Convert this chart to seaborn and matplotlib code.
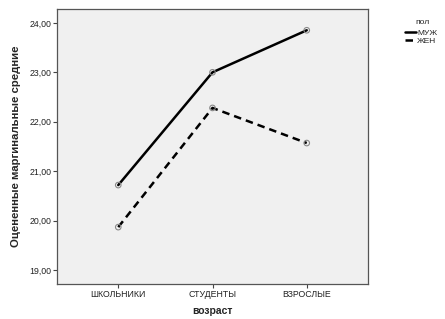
import matplotlib
matplotlib.use("Agg")
import matplotlib.pyplot as plt
import seaborn as sns
import pandas as pd
from matplotlib.lines import Line2D

# data
ages = ["ШКОЛЬНИКИ", "СТУДЕНТЫ", "ВЗРОСЛЫЕ"]
male = [20.72, 23.00, 23.85]
female = [19.87, 22.28, 21.57]
sex_labels = ["МУЖ", "ЖЕН"]
yticks = [19, 20, 21, 22, 23, 24]

df = pd.DataFrame({
    "возраст": ages * 2,
    "value": male + female,
    "пол": [sex_labels[0]] * 3 + [sex_labels[1]] * 3,
})
df["pos"] = df["возраст"].map({a: i for i, a in enumerate(ages)})

sns.set_style("white")
plt.rcParams["font.family"] = ["Liberation Sans", "DejaVu Sans"]

fig = plt.figure(figsize=(4.45, 3.19), dpi=100)
ax = fig.add_axes([57 / 445, 1 - 284 / 319, (368 - 57) / 445, (284 - 9) / 319])
ax.set_facecolor("#f0f0f0")

sns.lineplot(data=df, x="pos", y="value", hue="пол", style="пол",
             palette=["black", "black"], dashes={"МУЖ": "", "ЖЕН": (3, 2)},
             linewidth=1.8, ax=ax, legend=False)
# hollow grey markers, line stays visible through them
ax.scatter(df["pos"], df["value"], s=16, facecolors="none",
           edgecolors="#888888", linewidths=0.8, zorder=3)

ax.set_xlim(-0.65, 2.65)
ax.set_ylim(18.72, 24.28)
ax.set_xticks(range(len(ages)))
ax.set_xticklabels(ages)
ax.set_yticks(yticks)
ax.set_yticklabels([f"{v},00" for v in yticks])
ax.tick_params(axis="both", labelsize=6.3, length=3, width=0.8,
               direction="out", colors="#444444", labelcolor="#222222",
               pad=1, left=True, bottom=True)
for s in ax.spines.values():
    s.set_color("#555555")
    s.set_linewidth(0.9)

ax.set_xlabel("возраст", fontsize=7.5, fontweight="bold", labelpad=5)
ax.set_ylabel("Оцененные маргинальные средние", fontsize=8.2,
              fontweight="bold", labelpad=6)

# legend
fig.text(422 / 445, 1 - 22 / 319, "пол", fontsize=6, ha="center", va="center")
handles = [Line2D([], [], color="black", lw=1.8),
           Line2D([], [], color="black", lw=1.8, dashes=(3, 2))]
fig.legend(handles, sex_labels, loc="upper left",
           bbox_to_anchor=(405 / 445, 1 - 29 / 319), frameon=False,
           fontsize=6, handlelength=1.3, handletextpad=0.15,
           labelspacing=0.05, borderaxespad=0, borderpad=0)

fig.savefig("out.png", dpi=100)
